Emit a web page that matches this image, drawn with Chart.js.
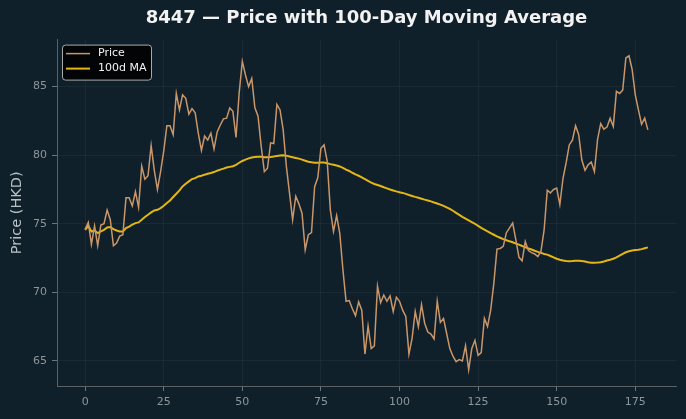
<!DOCTYPE html>
<html>
<head>
<meta charset="utf-8">
<script src="https://cdn.jsdelivr.net/npm/chart.js@4/dist/chart.umd.min.js"></script>
<style>
  html, body { margin: 0; padding: 0; background: #10202a; }
  #wrap { width: 686px; height: 419px; }
</style>
</head>
<body>
<div id="wrap"><canvas id="chart" width="686" height="419"></canvas></div>
<script>
// valores
const price = [74.6, 75.1, 73.5, 74.85, 73.4, 74.9, 75.0, 76.0, 75.3, 73.4,
  73.6, 74.1, 74.2, 76.9, 76.9, 76.3, 77.35, 76.2, 79.2, 78.25,
  78.5, 80.7, 78.9, 77.5, 78.8, 80.3, 82.15, 82.15, 81.5, 84.5,
  83.3, 84.4, 84.15, 83.0, 83.4, 83.1, 81.6, 80.35, 81.4, 81.1,
  81.6, 80.45, 81.7, 82.2, 82.65, 82.7, 83.45, 83.2, 81.3, 84.55,
  86.85, 85.85, 85.0, 85.6, 83.45, 82.85, 80.65, 78.8, 79.05, 80.9,
  80.85, 83.7, 83.3, 81.85, 79.2, 77.25, 75.3, 77.0, 76.45, 75.75,
  73.1, 74.2, 74.35, 77.7, 78.35, 80.5, 80.75, 79.55, 76.0, 74.45,
  75.6, 74.3, 71.65, 69.35, 69.4, 68.8, 68.3, 69.3, 68.7, 65.5,
  67.55, 65.9, 66.1, 70.45, 69.25, 69.8, 69.35, 69.75, 68.6, 69.65,
  69.35, 68.7, 68.25, 65.5, 66.65, 68.6, 67.5, 69.1, 67.75, 67.1,
  66.95, 66.6, 69.35, 67.8, 68.1, 67.0, 65.9, 65.35, 64.95, 65.1,
  65.0, 66.1, 64.35, 65.9, 66.5, 65.4, 65.6, 68.1, 67.5, 68.7,
  70.65, 73.15, 73.2, 73.35, 74.35, 74.7, 75.05, 73.85, 72.55, 72.3,
  73.7, 73.05, 72.9, 72.8, 72.6, 73.0, 74.55, 77.45, 77.25, 77.5,
  77.6, 76.4, 78.3, 79.45, 80.75, 81.1, 82.15, 81.5, 79.65, 78.9,
  79.3, 79.5, 78.8, 81.15, 82.3, 81.9, 82.05, 82.7, 82.1, 84.65,
  84.5, 84.75, 87.1, 87.25, 86.25, 84.4, 83.3, 82.25, 82.7, 81.85];

const ma100 = [74.56, 74.85, 74.44, 74.51, 74.32, 74.44, 74.56, 74.73, 74.76, 74.61,
  74.51, 74.44, 74.44, 74.68, 74.8, 74.93, 75.05, 75.1, 75.29, 75.49,
  75.66, 75.83, 75.97, 76.02, 76.14, 76.31, 76.51, 76.7, 76.95, 77.19,
  77.43, 77.72, 77.92, 78.09, 78.26, 78.33, 78.45, 78.5, 78.58, 78.65,
  78.7, 78.77, 78.87, 78.95, 79.02, 79.1, 79.15, 79.2, 79.3, 79.45,
  79.58, 79.68, 79.77, 79.83, 79.87, 79.88, 79.88, 79.85, 79.85, 79.87,
  79.9, 79.95, 79.98, 80.0, 79.97, 79.9, 79.85, 79.8, 79.75, 79.68,
  79.6, 79.52, 79.48, 79.45, 79.45, 79.46, 79.47, 79.42, 79.35, 79.3,
  79.25, 79.18, 79.08, 78.95, 78.85, 78.72, 78.6, 78.5, 78.38, 78.25,
  78.12, 78.0, 77.9, 77.83, 77.75, 77.66, 77.58, 77.5, 77.43, 77.36,
  77.3, 77.25, 77.18, 77.1, 77.03, 76.96, 76.9, 76.83, 76.76, 76.7,
  76.63, 76.55, 76.48, 76.4, 76.3, 76.2, 76.08, 75.95, 75.8, 75.65,
  75.5, 75.38, 75.25, 75.12, 75.0, 74.85, 74.7, 74.58, 74.45, 74.32,
  74.2, 74.08, 73.98, 73.88, 73.8, 73.72, 73.65, 73.55, 73.48, 73.38,
  73.3, 73.2, 73.12, 73.03, 72.95, 72.88, 72.8, 72.75, 72.65, 72.55,
  72.45, 72.38, 72.32, 72.28, 72.27, 72.28, 72.3, 72.3, 72.28, 72.25,
  72.2, 72.16, 72.15, 72.17, 72.2, 72.25, 72.32, 72.38, 72.45, 72.55,
  72.67, 72.8, 72.92, 73.0, 73.05, 73.08, 73.1, 73.15, 73.22, 73.28];

const xTicks = [0, 25, 50, 75, 100, 125, 150, 175];
const yTicks = [65, 70, 75, 80, 85];
const titulo = '8447 \u2014 Price with 100-Day Moving Average';

const dias = price.map((_, i) => i);

// leyenda dentro del area, arriba a la izquierda
const leyendaPlugin = {
  id: 'leyendaDentro',
  afterDraw(chart) {
    const ctx = chart.ctx;
    const a = chart.chartArea;
    const x0 = a.left + 5, y0 = a.top + 5, w = 89, h = 35;
    ctx.save();
    ctx.beginPath();
    ctx.roundRect(x0 + 0.5, y0 + 0.5, w, h, 3);
    ctx.fillStyle = 'rgba(0,0,0,0.85)';
    ctx.fill();
    ctx.strokeStyle = '#a9a9a9';
    ctx.lineWidth = 1;
    ctx.stroke();
    chart.data.datasets.forEach((ds, i) => {
      const yy = y0 + 9 + i * 15;
      ctx.beginPath();
      ctx.moveTo(x0 + 4, yy);
      ctx.lineTo(x0 + 28, yy);
      ctx.strokeStyle = ds.borderColor;
      ctx.lineWidth = ds.borderWidth;
      ctx.stroke();
      ctx.fillStyle = '#f2f2f2';
      ctx.font = '11px "DejaVu Sans"';
      ctx.textBaseline = 'middle';
      ctx.fillText(ds.label, x0 + 36, yy);
    });
    ctx.restore();
  }
};

const ctx = document.getElementById('chart').getContext('2d');
new Chart(ctx, {
  type: 'line',
  data: {
    datasets: [{
      label: 'Price',
      data: dias.map(i => ({ x: i, y: price[i] })),
      borderColor: '#c9966a',
      borderWidth: 1.5,
      pointRadius: 0,
      tension: 0
    }, {
      label: '100d MA',
      data: dias.map(i => ({ x: i, y: ma100[i] })),
      borderColor: '#e3b516',
      borderWidth: 2,
      pointRadius: 0,
      tension: 0
    }]
  },
  options: {
    responsive: false,
    animation: false,
    layout: { padding: { left: 0, right: 10, top: 0, bottom: 0 } },
    plugins: {
      legend: { display: false },
      tooltip: { enabled: false },
      title: {
        display: true,
        text: titulo,
        fullSize: false,
        color: '#f2f2f2',
        font: { family: 'DejaVu Sans', size: 18, weight: 'bold' },
        padding: { top: 8, bottom: 10 }
      }
    },
    scales: {
      x: {
        type: 'linear',
        min: -8.95,
        max: 187.95,
        afterBuildTicks: s => { s.ticks = xTicks.map(v => ({ value: v })); },
        afterFit: s => { s.height = 33; },
        grid: { color: 'rgba(255,255,255,0.045)', tickColor: '#6b7478', tickLength: 5 },
        border: { color: '#5a6266', width: 1 },
        ticks: { color: '#8c969b', font: { family: 'DejaVu Sans', size: 11 }, padding: 5, maxRotation: 0 }
      },
      y: {
        min: 63.17,
        max: 88.43,
        afterBuildTicks: s => { s.ticks = yTicks.map(v => ({ value: v })); },
        afterFit: s => { s.width = 57; },
        grid: { color: 'rgba(255,255,255,0.045)', tickColor: '#6b7478', tickLength: 5 },
        border: { color: '#5a6266', width: 1 },
        ticks: { color: '#8c969b', font: { family: 'DejaVu Sans', size: 11 }, padding: 5 },
        title: {
          display: true,
          text: 'Price (HKD)',
          color: '#b9c1c5',
          font: { family: 'DejaVu Sans', size: 14.5 },
          padding: { top: 9, bottom: 2 }
        }
      }
    }
  },
  plugins: [leyendaPlugin]
});
</script>
</body>
</html>
